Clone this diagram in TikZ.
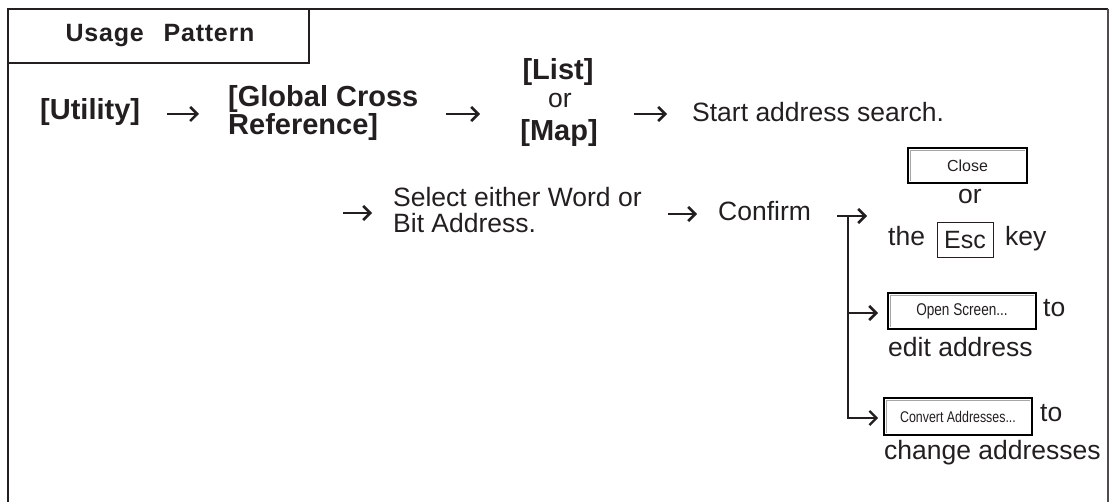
\documentclass[tikz,border=0pt]{standalone}
\usepackage{fontspec}
\setmainfont{Liberation Sans}
\newfontfamily\btnfont[FakeStretch=0.8]{Liberation Sans}
\usetikzlibrary{arrows.meta}
\definecolor{ink}{RGB}{35,31,32}
\begin{document}
\begin{tikzpicture}[x=1pt,y=-1pt,
  every node/.style={text=ink},
  txt/.style={inner sep=0pt, anchor=base west, font=\fontsize{26.5}{32}\selectfont},
  ctxt/.style={txt, anchor=base},
  btxt/.style={inner sep=0pt, anchor=base west, font=\bfseries\fontsize{29}{29}\selectfont},
  cbtxt/.style={btxt, anchor=base},
  arr/.style={draw=ink, line width=2.6pt, -{Straight Barb[length=7pt,width=14pt]}},
  frame/.style={draw=ink, line width=2pt},
  button/.style={draw=black, line width=1.6pt, inner sep=0pt}]
\useasboundingbox (0,0) rectangle (1109,502);
% frame
\draw[frame] (8,502) -- (8,9) -- (1108,9);
\draw[draw=ink!80, line width=1.4pt] (1108,9) -- (1108,502);
\draw[draw=ink, line width=1.5pt] (8,63) -- (309,63) -- (309,9);
\node[inner sep=0pt, anchor=base, font=\bfseries\fontsize{25}{25}\selectfont\addfontfeature{LetterSpace=3}] (title) at (160,42) {Usage\hspace{20pt}Pattern};
% row 1
\node[btxt] (util) at (40,120) {[Utility]};
\node[btxt] (gc1) at (228,107) {[Global Cross};
\node[btxt] (gc2) at (228,135) {Reference]};
\node[cbtxt] (list) at (558,80) {[List]};
\node[ctxt] (or1) at (560,108) {or};
\node[cbtxt] (map) at (559,141) {[Map]};
\node[txt] (start) at (692,122) {Start address search.};
\coordinate (a1s) at (167,114); \coordinate (a1e) at (199,114);
\coordinate (a2s) at (446,114); \coordinate (a2e) at (480,114);
\coordinate (a3s) at (634,114); \coordinate (a3e) at (667,114);
\draw[arr] (a1s) -- (a1e);
\draw[arr] (a2s) -- (a2e);
\draw[arr] (a3s) -- (a3e);
% row 2
\node[txt] (sel1) at (393,207) {Select either Word or};
\node[txt] (sel2) at (393,233) {Bit Address.};
\node[txt] (confirm) at (718,221) {Confirm};
\coordinate (a4s) at (343,213); \coordinate (a4e) at (372,213);
\coordinate (a5s) at (668,214); \coordinate (a5e) at (697,214);
\draw[arr] (a4s) -- (a4e);
\draw[arr] (a5s) -- (a5e);
% branch
\coordinate (bs) at (837,216); \coordinate (be) at (867,216);
\coordinate (bj) at (848,216);
\coordinate (bm) at (848,313); \coordinate (bme) at (878,313);
\coordinate (bbe) at (878,418);
\draw[arr] (bs) -- (be);
\draw[arr, line width=2.2pt] (bj) |- (bbe);
\draw[arr] (bm) -- (bme);
% buttons
\node[button, minimum width=119pt, minimum height=35pt, font=\fontsize{16}{16}\selectfont] (close) at (967.5,165.5) {Close};
\draw[gray!70, line width=1pt] ([shift={(3,-3)}]close.south west) |- ([shift={(-3,3)}]close.north east);
\node[ctxt] (or2) at (970,204) {or};
\node[txt] (the) at (888,246) {the};
\node[draw=ink, line width=1pt, minimum width=56pt, minimum height=35pt, inner sep=0pt, font=\fontsize{25}{25}\selectfont] (esc) at (965,240.5) {Esc};
\node[txt] (key) at (1005,246) {key};
\node[button, minimum width=148pt, minimum height=36pt, font=\btnfont\fontsize{17}{17}\selectfont] (open) at (962,311) {Open Screen...};
\draw[gray!70, line width=1pt] ([shift={(3,-3)}]open.south west) |- ([shift={(-3,3)}]open.north east);
\node[txt] (to1) at (1043,317) {to};
\node[txt] (edit) at (888,357) {edit address};
\node[button, minimum width=148pt, minimum height=37pt, font=\btnfont\fontsize{15.5}{15.5}\selectfont] (convert) at (958,416.5) {Convert Addresses...};
\draw[gray!70, line width=1pt] ([shift={(3,-3)}]convert.south west) |- ([shift={(-3,3)}]convert.north east);
\node[txt] (to2) at (1040,422) {to};
\node[txt] (change) at (884,460) {change addresses};
\end{tikzpicture}
\end{document}
